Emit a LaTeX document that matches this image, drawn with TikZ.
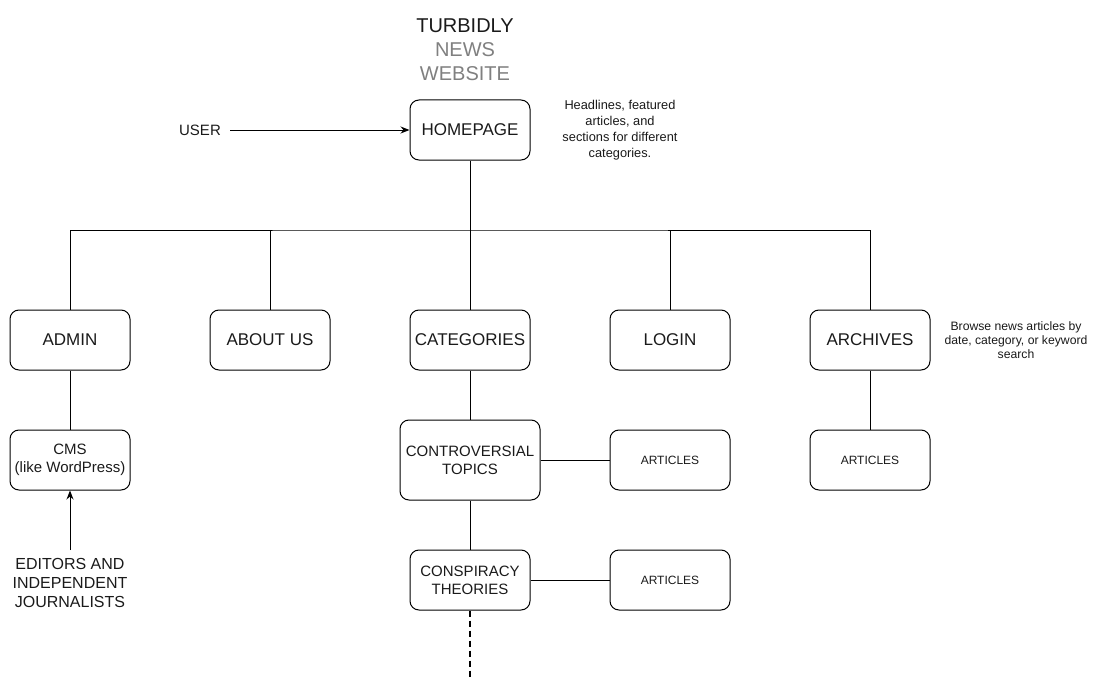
\documentclass[tikz,border=0pt]{standalone}
\usepackage{fontspec}
\setmainfont{Liberation Sans}
\usetikzlibrary{arrows.meta}
\definecolor{txtgray}{HTML}{808080}
\definecolor{txt}{HTML}{1A1A1A}
\tikzset{
  box/.style={draw=black, line width=1pt, rounded corners=9pt, minimum width=120pt, minimum height=60pt, align=center, text=txt, font=\fontsize{17}{19}\selectfont, inner sep=0pt},
  smallbox/.style={box, font=\fontsize{12}{14}\selectfont},
  midbox/.style={box, font=\fontsize{15}{18}\selectfont},
  conn/.style={line width=1pt, draw=black},
  arr/.style={conn, -{Stealth[length=9pt,width=7pt]}},
  note/.style={align=center, text=txt, inner sep=0pt},
  lbl/.style={align=center, text=txt, inner sep=0pt, font=\fontsize{16}{19}\selectfont},
}
\begin{document}
\begin{tikzpicture}[x=1pt,y=-1pt]
\useasboundingbox (0,0) rectangle (1101,693);
% title
\node[inner sep=0pt, align=center, font=\fontsize{20}{24}\selectfont] (title) at (465,50)
  {\textcolor{txt}{TURBIDLY}\\\textcolor{txtgray}{NEWS}\\\textcolor{txtgray}{WEBSITE}};
% top
\node[box] (home) at (470,130) {HOMEPAGE};
\node[lbl, font=\fontsize{15}{16}\selectfont] (user) at (200,130) {USER};
\coordinate (userend) at (230,130);
\node[note, font=\fontsize{12.8}{16}\selectfont] (homenote) at (620,130)
  {Headlines, featured\\articles, and\\sections for different\\categories.};
% row
\node[box] (admin) at (70,340) {ADMIN};
\node[box] (about) at (270,340) {ABOUT US};
\node[box] (cats) at (470,340) {CATEGORIES};
\node[box] (login) at (670,340) {LOGIN};
\node[box] (arch) at (870,340) {ARCHIVES};
\node[note, font=\fontsize{12.2}{14}\selectfont] (archnote) at (1016,340)
  {Browse news articles by\\date, category, or keyword\\search};
\coordinate (bus) at (470,230);
\draw[conn] (home.south) -- (bus);
\draw[conn] (admin.north) |- (bus) -| (arch.north);
\draw[conn] (about.north) -- (about.north |- bus);
\draw[conn] (cats.north) -- (bus);
\draw[conn] (login.north) -- (login.north |- bus);
\draw[arr] (userend) -- (home.west);
% admin branch
\node[midbox] (cms) at (70,460) {CMS\\(like WordPress)};
\draw[conn] (admin.south) -- (cms.north);
\node[lbl] (eds) at (70,583) {EDITORS AND\\INDEPENDENT\\JOURNALISTS};
\coordinate (edtop) at (70,550);
\draw[arr] (edtop) -- (cms.south);
% categories branch
\node[midbox, minimum width=140pt, minimum height=80pt] (contro) at (470,460) {CONTROVERSIAL\\TOPICS};
\node[smallbox] (art1) at (670,460) {ARTICLES};
\node[midbox] (consp) at (470,580) {CONSPIRACY\\THEORIES};
\node[smallbox] (art2) at (670,580) {ARTICLES};
\draw[conn] (cats.south) -- (contro.north);
\draw[conn] (contro.south) -- (consp.north);
\draw[conn] (contro.east) -- (art1.west);
\draw[conn] (consp.east) -- (art2.west);
\coordinate (more) at (470,677);
\draw[conn, line width=2pt, dash pattern=on 6pt off 4pt] (consp.south) -- (more);
% archives branch
\node[smallbox] (art3) at (870,460) {ARTICLES};
\draw[conn] (arch.south) -- (art3.north);
\end{tikzpicture}
\end{document}
